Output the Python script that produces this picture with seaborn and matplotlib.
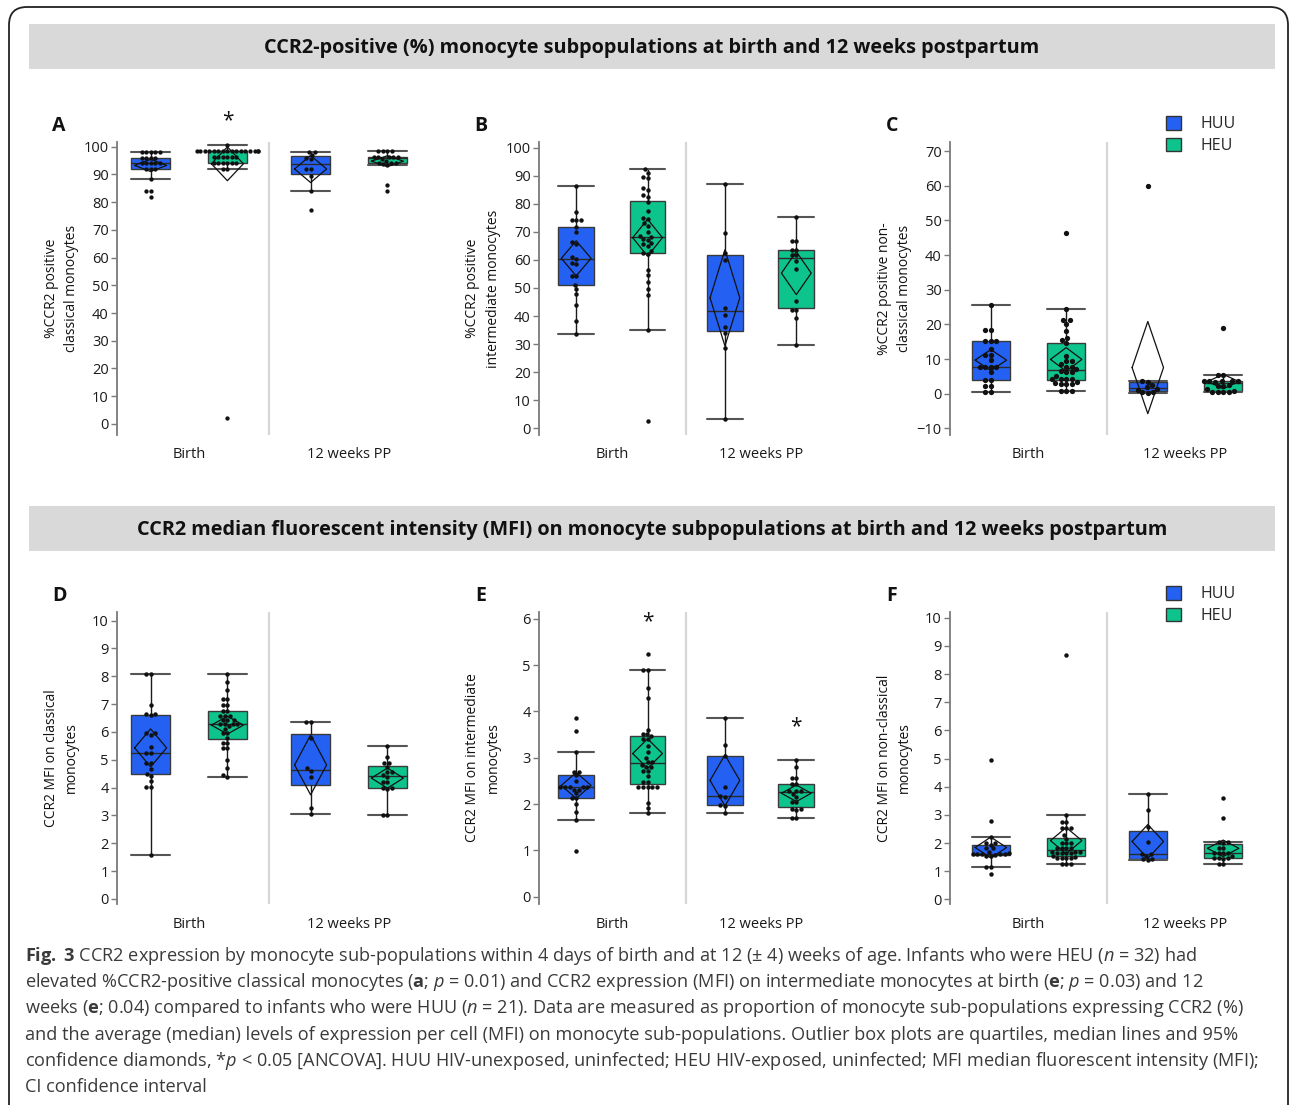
import warnings
import numpy as np
import pandas as pd
import matplotlib
matplotlib.use('Agg')
from matplotlib import pyplot as plt
from matplotlib.patches import Patch, Rectangle, FancyBboxPatch
import seaborn as sns

warnings.filterwarnings('ignore')

times = ['Birth', '12 weeks PP']
groups = ['HUU', 'HEU']
colors = ['#2461F2', '#0DC48D']

# A: %CCR2 positive classical monocytes
a_huu_birth = [82, 84, 84, 88.5, 92, 92, 92, 94, 94, 94, 94, 94, 96, 96, 96, 96, 98, 98, 98, 98, 98]
a_heu_birth = [2, 92, 92, 94.3, 94.3, 94.3, 94.3, 94.3, 94.3, 96.3, 96.3, 96.3, 96.3, 96.3, 96.3,
               98.3, 98.3, 98.3, 98.3, 98.3, 98.3, 98.3, 98.3, 98.3, 98.3, 98.3, 98.3, 98.3, 98.3,
               98.3, 98.3, 100.5]
a_huu_12w = [77.3, 84, 89.5, 92, 92, 95.5, 96, 97, 98.2, 98.2]
a_heu_12w = [84, 86.2, 93.5, 93.8, 94.2, 94.2, 94.2, 95, 95.5, 96.3, 96.3, 96.3, 96.3, 96.3,
             98.5, 98.5, 98.5, 98.5]

# B: %CCR2 positive intermediate monocytes
b_huu_birth = [33.7, 38.2, 43.8, 47.7, 49.5, 51.0, 54.4, 54.4, 58.5, 59.0, 60.2, 61.0, 65.6, 66.5,
               69.8, 71.7, 74.3, 74.3, 74.3, 77.2, 86.4]
b_heu_birth = [2.5, 35, 47.5, 49.5, 52, 54.5, 56.5, 62, 62.5, 63, 65, 65.5, 66, 67, 67.5, 68, 68.5,
               70, 72, 73, 74.5, 75, 77.5, 80.5, 82.5, 83, 85, 85.5, 89, 89.5, 91, 92.4]
b_huu_12w = [3.4, 28.5, 34, 36, 40.5, 43, 60, 62.5, 69.7, 87]
b_heu_12w = [29.6, 39.2, 42, 42, 45.5, 56.8, 59.5, 61.8, 61.8, 63.5, 63.5, 66.8, 66.8, 75.2]

# C: %CCR2 positive non-classical monocytes
c_huu_birth = [0.5, 0.5, 2.1, 2.1, 4, 4, 6.2, 7.8, 7.8, 7.8, 7.8, 9.6, 11.3, 11.3, 12.9, 15.3,
               15.3, 15.3, 18.3, 18.3, 25.5]
c_heu_birth = [0.9, 0.9, 0.9, 2.7, 2.7, 2.7, 3.2, 3.3, 4.3, 4.3, 4.3, 4.3, 5.2, 6.2, 6.2, 6.5, 7.0,
               7.8, 7.8, 8.5, 9.4, 9.4, 11.0, 14.5, 15.5, 16, 18.1, 20, 21.2, 21.2, 24.5, 46.3]
c_huu_12w = [0.3, 0.4, 0.5, 1.2, 1.5, 1.8, 2.5, 3.5, 3.7, 60]
c_heu_12w = [0.5, 0.5, 0.6, 0.6, 0.7, 1.3, 2.2, 2.2, 2.5, 3.5, 3.7, 3.7, 3.8, 3.8, 3.8, 5.4, 5.5, 19]

# D: CCR2 MFI on classical monocytes
d_huu_birth = [1.58, 4.04, 4.04, 4.24, 4.42, 4.5, 4.67, 4.88, 4.88, 5.26, 5.26, 5.45, 5.9, 5.96,
               5.96, 6.6, 6.63, 6.63, 6.97, 8.07, 8.07]
d_heu_birth = [4.4, 4.45, 4.7, 5.0, 5.42, 5.42, 5.6, 5.6, 5.8, 5.96, 5.96, 6.1, 6.2, 6.28, 6.28,
               6.28, 6.28, 6.43, 6.43, 6.43, 6.57, 6.57, 6.57, 6.75, 6.75, 6.97, 6.97, 7.17, 7.17,
               7.5, 7.8, 8.07]
d_huu_12w = [3.07, 3.27, 4.38, 4.6, 4.7, 5.77, 6.37, 6.37]
d_heu_12w = [3.0, 3.0, 3.95, 4.0, 4.0, 4.2, 4.2, 4.4, 4.45, 4.58, 4.58, 4.75, 4.87, 4.9, 5.1, 5.51]

# E: CCR2 MFI on intermediate monocytes
e_huu_birth = [0.98, 1.65, 1.82, 2.0, 2.12, 2.14, 2.23, 2.31, 2.31, 2.36, 2.36, 2.36, 2.36, 2.36,
               2.5, 2.62, 2.7, 2.7, 3.13, 3.57, 3.87]
e_heu_birth = [1.8, 1.91, 2.03, 2.36, 2.36, 2.36, 2.36, 2.36, 2.47, 2.47, 2.6, 2.71, 2.71, 2.8,
               2.8, 2.85, 2.91, 2.91, 3.0, 3.13, 3.26, 3.4, 3.4, 3.46, 3.51, 3.51, 3.61, 4.3, 4.51,
               4.9, 4.9, 5.25]
e_huu_12w = [1.81, 1.95, 1.97, 2.15, 2.17, 2.36, 3.03, 3.28, 3.87]
e_heu_12w = [1.7, 1.7, 1.88, 1.89, 1.9, 2.05, 2.05, 2.16, 2.22, 2.29, 2.29, 2.29, 2.44, 2.44,
             2.56, 2.56, 2.81, 2.96]

# F: CCR2 MFI on non-classical monocytes
f_huu_birth = [0.9, 1.14, 1.14, 1.55, 1.55, 1.58, 1.61, 1.61, 1.61, 1.61, 1.61, 1.65, 1.7, 1.81,
               1.81, 1.95, 2.0, 2.0, 2.2, 2.78, 4.94]
f_heu_birth = [1.26, 1.26, 1.26, 1.46, 1.46, 1.46, 1.46, 1.5, 1.55, 1.64, 1.64, 1.64, 1.64, 1.7,
               1.7, 1.7, 1.81, 1.81, 1.81, 1.81, 2.0, 2.0, 2.0, 2.16, 2.3, 2.55, 2.55, 2.55, 2.75,
               2.75, 3.0, 8.68]
f_huu_12w = [1.4, 1.42, 1.42, 1.55, 1.61, 1.61, 2.05, 2.58, 3.17, 3.76]
f_heu_12w = [1.26, 1.26, 1.42, 1.46, 1.46, 1.46, 1.55, 1.64, 1.64, 1.64, 1.64, 1.83, 1.83, 2.0,
             2.05, 2.05, 2.89, 3.6]

# significance stars: (time index, group index, y)
a_stars = [(0, 1, 109.3)]
e_stars = [(0, 1, 5.94), (1, 1, 3.67)]

header_1 = 'CCR2-positive (%) monocyte subpopulations at birth and 12 weeks postpartum'
header_2 = ('CCR2 median fluorescent intensity (MFI) on monocyte subpopulations at birth '
            'and 12 weeks postpartum')
caption = [
    r'$\mathbf{Fig.}$ $\mathbf{3}$ CCR2 expression by monocyte sub-populations within 4 days of birth and at 12 (± 4) weeks of age. Infants who were HEU ($\mathit{n}$ = 32) had',
    r'elevated %CCR2-positive classical monocytes ($\mathbf{a}$; $\mathit{p}$ = 0.01) and CCR2 expression (MFI) on intermediate monocytes at birth ($\mathbf{e}$; $\mathit{p}$ = 0.03) and 12',
    r'weeks ($\mathbf{e}$; 0.04) compared to infants who were HUU ($\mathit{n}$ = 21). Data are measured as proportion of monocyte sub-populations expressing CCR2 (%)',
    'and the average (median) levels of expression per cell (MFI) on monocyte sub-populations. Outlier box plots are quartiles, median lines and 95%',
    r'confidence diamonds, *$\mathit{p}$ < 0.05 [ANCOVA]. HUU HIV-unexposed, uninfected; HEU HIV-exposed, uninfected; MFI median fluorescent intensity (MFI);',
    'CI confidence interval',
]

W, H = 1290, 1105
col_left = [117, 539, 950]
col_width = [312, 296, 314]
col_xmin = [-0.45, -0.49, -0.5]
row_top = [142, 612]
row_bottom = [435, 904]
OFF = 0.24

sns.set_style('ticks')
plt.rcParams['font.family'] = ['Open Sans', 'DejaVu Sans']
plt.rcParams['mathtext.fontset'] = 'custom'
plt.rcParams['mathtext.rm'] = 'Open Sans'
plt.rcParams['mathtext.it'] = 'Open Sans:italic'
plt.rcParams['mathtext.bf'] = 'Open Sans:bold'


def t975(dof):
  # rough two-sided 95% t quantile
  return 1.96 + 2.5 / dof + 3.0 / dof ** 2


def _frame(vals):
  rows = []
  for ti, t in enumerate(times):
    for gi, g in enumerate(groups):
      for v in vals[ti][gi]:
        rows.append((t, g, ti + (gi - 0.5) * 2 * OFF, v))
  return pd.DataFrame(rows, columns=['time', 'group', 'pos', 'value'])


def _panel(fig, col, row, letter, vals, ylim, yt, ylabel, dot, stars=()):
  rect = [col_left[col] / W, 1 - row_bottom[row] / H, col_width[col] / W,
          (row_bottom[row] - row_top[row]) / H]
  ax = fig.add_axes(rect)
  df = _frame(vals)
  sns.boxplot(data=df, x='pos', y='value', hue='group', hue_order=groups, palette=colors,
              orient='x', native_scale=True, dodge=False, width=0.5, saturation=1,
              whis=1.5, showfliers=False, linewidth=1.0, linecolor='#3a3a3a', legend=False,
              ax=ax, capwidths=0.24,
              capprops=dict(color='#555555', linewidth=1.5),
              whiskerprops=dict(color='#1a1a1a', linewidth=1.0),
              medianprops=dict(color='#2a2a2a', linewidth=1.0))
  sns.swarmplot(data=df, x='pos', y='value', orient='x', native_scale=True, color='#111111',
                size=dot, ax=ax, zorder=4, legend=False)

  # 95% confidence diamonds
  for ti in range(2):
    for gi in range(2):
      v = np.asarray(vals[ti][gi], dtype=float)
      m = v.mean()
      ci = t975(len(v) - 1) * v.std(ddof=1) / np.sqrt(len(v))
      p = ti + (gi - 0.5) * 2 * OFF
      hw = 0.1
      ax.plot([p - hw, p, p + hw, p, p - hw], [m, m + ci, m, m - ci, m],
              color='#111111', lw=0.9, zorder=3)

  for ti, gi, y in stars:
    ax.text(ti + (gi - 0.5) * 2 * OFF, y, '*', ha='center', va='center', fontsize=15,
            color='#111111', clip_on=False)

  ax.axvline(0.5, color='#d6d6d6', lw=1.6, zorder=0)
  ax.set_xlim(col_xmin[col], 1.5)
  ax.set_ylim(*ylim)
  ax.set_yticks(np.arange(yt[0], yt[1] + yt[2] / 2, yt[2]))
  ax.set_xticks([0, 1])
  ax.set_xticklabels(times)
  ax.set_xlabel('')
  ax.set_ylabel(ylabel, fontsize=10, linespacing=1.5, color='#111111')
  ax.yaxis.set_label_coords(-38 / col_width[col], 0.5)
  sns.despine(ax=ax, bottom=True)
  ax.spines['left'].set_color('#7a7a7a')
  ax.spines['left'].set_linewidth(1.3)
  ax.tick_params(axis='y', length=4.5, width=1, color='#7a7a7a', pad=1.5, labelsize=10.5,
                 labelcolor='#1a1a1a')
  ax.tick_params(axis='x', length=0, pad=9, labelsize=10.5, labelcolor='#1a1a1a')

  fig.text((col_left[col] - 58) / W, 1 - (row_top[row] - 16) / H, letter, fontsize=14,
           fontweight='bold', ha='center', va='center', color='#111111')
  return ax


fig = plt.figure(figsize=(W / 100, H / 100), dpi=100)

# outer frame and header bands
fig.add_artist(FancyBboxPatch((0.09, -0.5), 12.79, 11.05 - 0.07 + 0.5,
                              boxstyle='round,pad=0,rounding_size=0.18',
                              transform=fig.dpi_scale_trans, fill=False, ec='#222222', lw=1.3))
for top, bottom, txt in [(24, 69, header_1), (506, 551, header_2)]:
  fig.add_artist(Rectangle((29 / W, 1 - bottom / H), (1275 - 29) / W, (bottom - top) / H,
                           transform=fig.transFigure, color='#d9d9d9', lw=0))
  fig.text(652 / W, 1 - ((top + bottom) / 2 + 1.5) / H, txt, ha='center', va='center',
           fontsize=14.3, fontweight='bold', color='#111111')

_panel(fig, 0, 0, 'A', [[a_huu_birth, a_heu_birth], [a_huu_12w, a_heu_12w]], (-4, 101.7),
       (0, 100, 10), '%CCR2 positive\nclassical monocytes', 3.1, a_stars)
_panel(fig, 1, 0, 'B', [[b_huu_birth, b_heu_birth], [b_huu_12w, b_heu_12w]], (-2.4, 102),
       (0, 100, 10), '%CCR2 positive\nintermediate monocytes', 3.2)
_panel(fig, 2, 0, 'C', [[c_huu_birth, c_heu_birth], [c_huu_12w, c_heu_12w]], (-11.9, 72.6),
       (-10, 70, 10), '%CCR2 positive non-\nclassical monocytes', 3.8)
_panel(fig, 0, 1, 'D', [[d_huu_birth, d_heu_birth], [d_huu_12w, d_heu_12w]], (-0.18, 10.31),
       (0, 10, 1), 'CCR2 MFI on classical\nmonocytes', 3.2)
_panel(fig, 1, 1, 'E', [[e_huu_birth, e_heu_birth], [e_huu_12w, e_heu_12w]], (-0.16, 6.15),
       (0, 6, 1), 'CCR2 MFI on intermediate\nmonocytes', 3.2, e_stars)
_panel(fig, 2, 1, 'F', [[f_huu_birth, f_heu_birth], [f_huu_12w, f_heu_12w]], (-0.16, 10.2),
       (0, 10, 1), 'CCR2 MFI on non-classical\nmonocytes', 3.2)

handles = [Patch(facecolor=c, edgecolor='#333333', lw=1) for c in colors]
for y_top in [116, 586]:
  fig.legend(handles, groups, loc='upper left', bbox_to_anchor=(1166 / W, 1 - y_top / H),
             frameon=False, fontsize=11.5, handlelength=0.95, handleheight=0.95,
             handletextpad=1.2, labelspacing=0.33, borderpad=0, borderaxespad=0)

for i, line in enumerate(caption):
  fig.text(25 / W, 1 - (956 + 26.2 * i) / H, line, ha='left', va='center', fontsize=13.05,
           color='#3a3a3a')

fig.savefig('out.png', dpi=100)
